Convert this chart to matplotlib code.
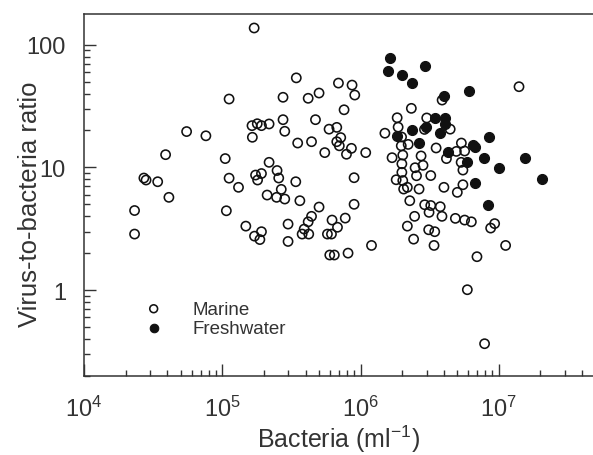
import matplotlib
matplotlib.use("Agg")
import matplotlib.pyplot as plt
from matplotlib.ticker import LogLocator, FixedLocator, FixedFormatter, NullFormatter

plt.rcParams["font.family"] = ["Liberation Sans", "DejaVu Sans"]
plt.rcParams["mathtext.fontset"] = "custom"
plt.rcParams["mathtext.rm"] = "Liberation Sans"
plt.rcParams["mathtext.it"] = "Liberation Sans:italic"

# bacteria (ml^-1) and virus-to-bacteria ratio
marine_bact = [2.32e4, 2.32e4, 2.71e4, 2.81e4, 3.41e4, 3.89e4, 4.11e4, 5.52e4, 7.61e4, 1.05e5,
               1.07e5, 1.12e5, 1.12e5, 1.31e5, 1.48e5, 1.65e5, 1.64e5, 1.79e5, 1.92e5, 2.18e5,
               1.70e5, 1.74e5, 1.92e5, 1.80e5, 1.71e5, 1.87e5, 1.92e5, 2.18e5, 2.49e5, 2.56e5,
               2.67e5, 2.11e5, 2.47e5, 2.83e5, 2.75e5, 2.75e5, 2.83e5, 2.99e5, 2.99e5, 3.43e5,
               3.40e5, 3.51e5, 3.64e5, 4.18e5, 5.01e5, 4.42e5, 4.72e5, 5.51e5, 5.01e5, 4.42e5,
               4.18e5, 3.91e5, 3.78e5, 4.22e5, 6.22e5, 6.81e5, 5.76e5, 6.16e5, 5.99e5, 6.46e5,
               7.75e5, 6.92e5, 8.68e5, 9.08e5, 7.60e5, 5.92e5, 6.73e5, 7.19e5, 6.73e5, 7.02e5,
               7.91e5, 8.59e5, 1.09e6, 8.98e5, 8.98e5, 1.20e6, 8.12e5, 1.50e6, 1.69e6,
               1.84e6, 1.87e6, 1.98e6, 1.97e6, 2.02e6, 1.99e6, 1.99e6, 1.81e6, 2.02e6, 2.05e6,
               2.18e6, 2.21e6, 2.33e6, 3.01e6, 2.90e6, 4.45e6, 3.52e6, 2.74e6, 2.48e6, 2.83e6,
               2.54e6, 3.22e6, 4.18e6, 4.93e6, 5.66e6, 5.36e6, 5.34e6, 5.50e6, 4.01e6, 5.01e6,
               5.50e6, 2.65e6, 2.27e6, 2.91e6, 3.22e6, 3.13e6, 3.77e6, 3.88e6, 2.46e6, 4.85e6,
               5.66e6, 6.33e6, 2.18e6, 3.11e6, 3.44e6, 2.42e6, 3.40e6, 8.73e6, 9.33e6, 1.12e7,
               6.95e6, 1.40e7, 5.92e6, 7.89e6, 3.89e6]
marine_vbr = [4.45, 2.86, 8.19, 7.89, 7.64, 12.7, 5.70, 19.6, 18.1, 11.8,
              4.43, 36.1, 8.17, 6.88, 3.32, 17.6, 21.9, 22.7, 21.9, 22.6,
              137, 8.66, 8.91, 7.89, 2.75, 2.58, 2.99, 11.0, 9.43, 8.19,
              6.62, 5.95, 5.70, 5.52, 37.3, 24.5, 19.7, 3.45, 2.49, 53.7,
              7.64, 15.8, 5.35, 36.6, 40.4, 16.2, 24.5, 13.2, 4.75, 3.99,
              3.60, 3.14, 2.86, 2.86, 3.72, 3.25, 2.86, 2.86, 1.93, 1.93,
              3.86, 48.7, 46.9, 38.9, 29.5, 20.5, 21.2, 17.5, 16.2, 15.0,
              12.8, 14.3, 13.2, 8.24, 5.00, 2.31, 2.00, 19.0, 12.0,
              25.4, 21.3, 17.7, 15.0, 12.6, 10.7, 9.11, 7.93, 7.81, 6.66,
              6.88, 15.4, 30.3, 25.3, 20.4, 20.5, 14.4, 12.4, 9.94, 10.4,
              8.55, 8.58, 11.8, 13.5, 13.6, 15.8, 11.0, 9.51, 6.88, 6.26,
              7.22, 6.66, 5.35, 4.96, 4.89, 4.30, 4.78, 3.99, 3.99, 3.84,
              3.72, 3.60, 3.32, 3.10, 2.99, 2.60, 2.31, 3.20, 3.48, 2.31,
              1.87, 45.5, 1.006, 0.365, 35.4]

fresh_bact = [1.64e6, 1.59e6, 1.99e6, 2.34e6, 2.91e6, 6.12e6, 4.01e6, 3.45e6, 4.08e6, 4.06e6,
              2.99e6, 2.34e6, 3.75e6, 1.85e6, 2.65e6, 8.44e6, 6.50e6, 6.69e6, 4.30e6, 7.87e6,
              5.87e6, 1.54e7, 1.01e7, 2.06e7, 6.71e6, 8.40e6]
fresh_vbr = [77.9, 60.7, 56.4, 48.7, 67.4, 42.2, 38.0, 25.5, 25.5, 22.4,
             21.2, 20.3, 19.0, 18.1, 15.8, 17.8, 15.3, 14.6, 13.3, 11.9,
             11.0, 11.9, 9.94, 7.99, 7.41, 4.96]

x_ticks = [1e4, 1e5, 1e6, 1e7]
y_ticks = [1, 10, 100]
y_ticklabels = ["1", "10", "100"]

ink = "#333333"
fig = plt.figure(figsize=(5.93, 4.56), dpi=100)
ax = fig.add_axes([0.1417, 0.1726, 0.8583, 0.7944])

ax.scatter(marine_bact, marine_vbr, s=44, facecolors="none", edgecolors="#111111",
           linewidths=1.15, label="Marine", zorder=2)
ax.scatter(fresh_bact, fresh_vbr, s=52, facecolors="#111111", edgecolors="#111111",
           linewidths=0.8, label="Freshwater", zorder=3)

ax.set_xscale("log"); ax.set_yscale("log")
ax.set_xlim(1e4, 4.8e7); ax.set_ylim(0.198, 178)

ax.xaxis.set_major_locator(FixedLocator(x_ticks))
ax.xaxis.set_minor_locator(LogLocator(base=10, subs=range(2, 10)))
ax.xaxis.set_minor_formatter(NullFormatter())
ax.yaxis.set_major_locator(FixedLocator(y_ticks))
ax.yaxis.set_major_formatter(FixedFormatter(y_ticklabels))
ax.yaxis.set_minor_locator(LogLocator(base=10, subs=range(2, 10)))
ax.yaxis.set_minor_formatter(NullFormatter())

ax.tick_params(which="both", direction="in", top=False, right=False, color=ink, width=1.0)
ax.tick_params(which="major", length=8.5, labelsize=17, labelcolor=ink)
ax.tick_params(which="minor", length=4.5)
ax.tick_params(axis="x", which="major", pad=14)
ax.tick_params(axis="y", which="major", pad=13)

ax.spines["right"].set_visible(False)
for s in ("left", "bottom", "top"):
    ax.spines[s].set_color(ink); ax.spines[s].set_linewidth(1.1)

ax.set_xlabel(r"Bacteria (ml$^{\mathregular{-1}}$)", fontsize=18, color=ink, labelpad=1)
ax.set_ylabel("Virus-to-bacteria ratio", fontsize=18.5, color=ink)
ax.yaxis.set_label_coords(-0.082, 0.477)

ax.legend(loc="upper left", bbox_to_anchor=(0.1, 0.235), frameon=False, fontsize=13.5,
          handlelength=1.0, handletextpad=1.55, labelspacing=0.1, markerscale=0.85,
          borderpad=0, labelcolor=ink)

fig.savefig("out.png", dpi=100)
